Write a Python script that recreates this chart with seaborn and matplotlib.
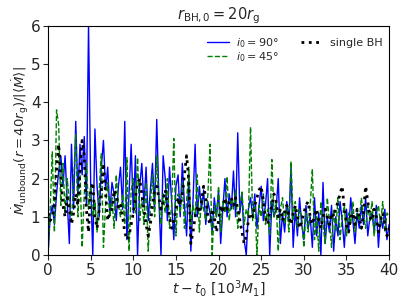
import numpy as np
import pandas as pd
import matplotlib
matplotlib.use("Agg")
import matplotlib.pyplot as plt
import seaborn as sns

# time grid [10^3 M_1]
t = [i * 0.25 for i in range(161)]

blue_90 = [
    0.0, 1.0, 1.3, 0.8, 1.6, 2.2, 2.6, 1.8, 2.6, 1.4, 0.3, 2.9, 1.2, 3.5, 1.6, 2.9,
    2.1, 3.1, 1.3, 6.0, 1.9, 0.0, 3.3, 1.8, 1.0, 2.3, 3.0, 1.7, 2.3, 1.1, 1.9, 1.6,
    0.9, 1.8, 2.3, 1.2, 3.5, 0.4, 1.6, 2.9, 1.1, 2.6, 0.0, 1.8, 2.4, 1.3, 2.3, 0.9,
    1.7, 2.4, 1.2, 3.55, 1.5, 0.0, 2.6, 2.0, 0.9, 2.3, 1.4, 0.4, 1.8, 2.1, 1.0, 2.4,
    1.3, 0.5, 2.0, 0.1, 1.4, 2.9, 1.0, 1.8, 1.2, 1.7, 0.8, 1.4, 1.1, 0.6, 1.5, 1.0,
    1.7, 0.3, 1.2, 2.0, 1.0, 1.6, 1.2, 2.2, 1.0, 3.2, 1.1, 1.6, 0.4, 0.0, 1.2, 1.5,
    1.0, 1.6, 0.7, 1.3, 1.8, 0.9, 1.3, 2.0, 0.0, 1.4, 1.0, 1.2, 2.0, 0.3, 1.1, 0.6,
    1.4, 0.9, 2.3, 0.2, 1.2, 0.5, 1.5, 0.8, 0.4, 1.3, 0.7, 1.0, 0.2, 1.5, 0.5, 1.1,
    0.0, 1.9, 0.3, 1.0, 0.6, 1.3, 0.1, 1.0, 0.5, 1.4, 0.9, 0.2, 1.2, 0.6, 1.5, 0.9,
    0.3, 1.1, 0.7, 1.3, 0.8, 1.5, 0.5, 1.0, 1.1, 0.6, 1.3, 0.2, 1.0, 0.7, 1.2, 0.4,
    0.8,
]

green_45 = [
    0.0, 1.2, 2.7, 0.6, 3.8, 3.4, 1.3, 2.4, 1.1, 2.0, 1.4, 0.9, 1.9, 3.15, 1.0, 2.2,
    0.2, 1.6, 2.4, 1.2, 1.8, 1.0, 1.4, 0.6, 1.7, 2.65, 0.2, 1.3, 1.9, 1.0, 1.5, 0.7,
    2.1, 1.3, 1.0, 1.6, 0.8, 2.55, 0.1, 1.7, 2.0, 1.1, 2.55, 0.9, 1.5, 0.8, 1.9, 0.1,
    1.3, 2.1, 1.0, 2.6, 1.4, 0.8, 1.6, 1.1, 2.0, 0.7, 1.3, 3.05, 0.5, 1.6, 1.1, 1.9,
    0.7, 1.4, 2.3, 0.8, 1.3, 1.0, 2.1, 0.6, 1.5, 1.2, 0.9, 1.6, 2.9, 0.0, 1.3, 1.0,
    1.8, 0.6, 1.4, 1.1, 2.05, 0.9, 1.5, 1.2, 1.7, 0.7, 1.3, 1.65, 0.8, 1.2, 1.0, 3.35,
    0.9, 1.4, 0.0, 1.3, 1.0, 1.6, 0.8, 1.2, 0.5, 2.5, 1.0, 1.4, 0.1, 1.2, 1.5, 0.8,
    1.3, 0.6, 2.45, 0.9, 1.4, 0.7, 1.2, 1.0, 0.2, 1.1, 0.6, 1.3, 2.25, 0.4, 1.0, 0.1,
    1.4, 0.8, 0.3, 1.5, 0.9, 0.2, 1.2, 0.6, 1.5, 0.4, 1.0, 1.3, 0.5, 1.1, 0.8, 1.4,
    0.6, 1.2, 0.9, 1.5, 1.0, 0.7, 1.3, 0.9, 1.4, 0.5, 1.1, 1.3, 0.8, 1.4, 0.6, 1.1,
    1.0,
]

single_bh = [
    1.1, 0.9, 1.0, 1.3, 2.2, 2.9, 2.0, 1.3, 1.0, 1.5, 1.2, 0.8, 1.1, 1.6, 1.3, 2.2,
    3.0, 2.6, 1.2, 0.6, 1.7, 1.9, 1.0, 0.7, 1.2, 1.7, 2.4, 1.6, 0.9, 1.1, 1.2, 1.7,
    1.6, 1.2, 1.3, 1.0, 0.6, 0.4, 0.5, 0.8, 1.1, 1.5, 1.9, 2.0, 1.6, 1.2, 0.8, 0.5,
    0.8, 1.3, 1.7, 1.8, 1.5, 1.2, 1.4, 1.7, 1.3, 1.0, 0.7, 0.9, 1.2, 1.5, 1.3, 1.6,
    2.1, 2.6, 2.0, 0.3, 0.6, 1.0, 1.3, 1.1, 1.4, 1.8, 1.5, 1.0, 0.8, 1.2, 1.0, 0.6,
    0.9, 1.3, 1.1, 1.5, 1.2, 1.4, 1.5, 1.3, 1.5, 1.2, 0.9, 0.6, 0.3, 0.5, 0.9, 1.1,
    1.0, 1.3, 1.5, 1.7, 1.8, 1.4, 1.0, 0.8, 1.1, 1.3, 1.6, 1.4, 1.0, 1.2, 0.9, 1.1,
    1.3, 1.0, 0.8, 1.1, 1.3, 1.0, 0.7, 0.9, 1.1, 1.3, 1.4, 1.0, 0.8, 1.0, 1.2, 0.9,
    0.7, 1.0, 1.2, 1.0, 0.8, 1.1, 1.0, 1.2, 1.4, 1.6, 1.8, 1.2, 0.8, 0.6, 1.0, 1.1,
    0.8, 1.2, 1.0, 0.7, 1.1, 1.8, 1.4, 1.0, 0.9, 1.2, 1.0, 0.6, 0.9, 1.1, 0.8, 0.5,
    0.7,
]

labels = [r"$i_0=90°$", r"$i_0=45°$", "single BH"]

sns.set_style("ticks")
plt.rcParams["font.family"] = ["DejaVu Sans"]
plt.rcParams["mathtext.fontset"] = "dejavusans"

fig = plt.figure(figsize=(4.07, 3.05), dpi=100)
ax = fig.add_axes([0.118, 0.164, 0.838, 0.751])

df1 = pd.DataFrame({"t": t, "v": blue_90})
df2 = pd.DataFrame({"t": t, "v": green_45})
df3 = pd.DataFrame({"t": t, "v": single_bh})

sns.lineplot(data=df1, x="t", y="v", ax=ax, color="blue", lw=1.0,
             label=labels[0], estimator=None, sort=False)
sns.lineplot(data=df2, x="t", y="v", ax=ax, color="green", lw=1.0,
             linestyle="--", label=labels[1], estimator=None, sort=False)
sns.lineplot(data=df3, x="t", y="v", ax=ax, color="black", lw=2.0,
             linestyle=":", label=labels[2], estimator=None, sort=False)

ax.set_xlim(0, 40)
ax.set_ylim(0, 6)
ax.set_xticks([0, 5, 10, 15, 20, 25, 30, 35, 40])
ax.set_yticks([0, 1, 2, 3, 4, 5, 6])
ax.tick_params(labelsize=11, direction="out", length=3.5, pad=2)
for s in ax.spines.values():
    s.set_visible(True)
    s.set_color("black")
    s.set_linewidth(0.8)

ax.set_xlabel(r"$t-t_0\ [10^3 M_1]$", fontsize=10, labelpad=1)
ax.set_ylabel(r"$\dot{M}_{\rm unbound}(r=40r_{\rm g})/|\langle\dot{M}\rangle|$",
              fontsize=9.5, labelpad=0)
ax.set_title(r"$r_{\rm BH,0}=20r_{\rm g}$", fontsize=10.5, pad=4)

ax.legend(ncol=2, loc="upper right", bbox_to_anchor=(1.0, 0.985), frameon=False,
          fontsize=8, handlelength=2.0, columnspacing=2.0, borderaxespad=0.2,
          handletextpad=0.6, labelspacing=0.05)

fig.savefig("out.png", dpi=100)
